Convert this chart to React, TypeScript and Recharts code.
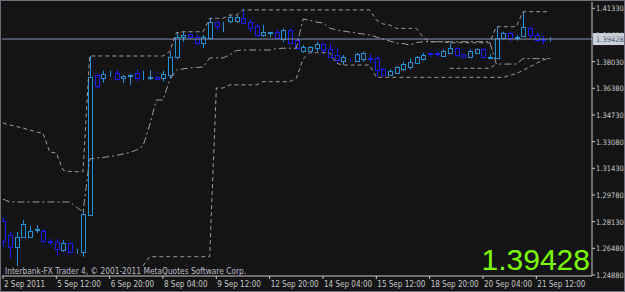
import React from 'react';
import { ComposedChart, Bar, Line, XAxis, YAxis, ReferenceLine } from 'recharts';

const BG = '#141414';
const BULL = '#2290d4';
const BEAR = '#1a1af2';
const AXIS = '#c8c8c8';
const GRAYLINE = '#9c9c9c';
const FONT = "Tahoma, 'DejaVu Sans Condensed', 'Liberation Sans', sans-serif";

// H4 bars, index 0 = 2 Sep 2011
const opens = [
  1.2817, 1.2731, 1.2656, 1.2721, 1.2721, 1.2761, 1.2757, 1.2693, 1.2689, 1.2638,
  1.2679, 1.2625, 1.2625, 1.2854, 1.3720, 1.3700, 1.3725, 1.3735, 1.3699, 1.3717,
  1.3731, 1.3705, 1.3702, 1.3711, 1.3704, 1.3720, 1.3834, 1.3954, 1.3974, 1.3954,
  1.3920, 1.3947, 1.4050, 1.4034, 1.4056, 1.4056, 1.4071, 1.4050, 1.4024, 1.3968,
  1.3982, 1.3988, 1.3941, 1.3999, 1.3937, 1.3871, 1.3871, 1.3886, 1.3912, 1.3879,
  1.3844, 1.3809, 1.3815, 1.3809, 1.3818, 1.3826, 1.3824, 1.3756, 1.3720, 1.3731,
  1.3756, 1.3772, 1.3797, 1.3818, 1.3857, 1.3857, 1.3838, 1.3858, 1.3886, 1.3850,
  1.3830, 1.3858, 1.3879, 1.3827, 1.3824, 1.3947, 1.3978, 1.3951, 1.3962, 1.4009,
  1.3968, 1.3943, 1.3940,
];
const highs = [
  1.2836, 1.2749, 1.2749, 1.2823, 1.2786, 1.2792, 1.2768, 1.2709, 1.2706, 1.2700,
  1.2683, 1.2644, 1.2881, 1.3838, 1.3727, 1.3747, 1.3747, 1.3751, 1.3720, 1.3727,
  1.3756, 1.3747, 1.3751, 1.3714, 1.3747, 1.3865, 1.3982, 1.3988, 1.3982, 1.3968,
  1.3968, 1.4071, 1.4056, 1.4050, 1.4092, 1.4092, 1.4123, 1.4061, 1.4036, 1.4030,
  1.3988, 1.3999, 1.4009, 1.4009, 1.3954, 1.3906, 1.3900, 1.3926, 1.3920, 1.3912,
  1.3886, 1.3844, 1.3824, 1.3858, 1.3865, 1.3850, 1.3834, 1.3762, 1.3756, 1.3776,
  1.3801, 1.3824, 1.3838, 1.3858, 1.3858, 1.3865, 1.3879, 1.3920, 1.3892, 1.3850,
  1.3879, 1.3886, 1.3886, 1.3850, 1.4019, 1.3988, 1.3988, 1.3968, 1.4112, 1.4019,
  1.3982, 1.3962, 1.3954,
];
const lows = [
  1.2656, 1.2588, 1.2539, 1.2718, 1.2712, 1.2743, 1.2681, 1.2669, 1.2606, 1.2625,
  1.2617, 1.2613, 1.2596, 1.2848, 1.3640, 1.3673, 1.3708, 1.3685, 1.3671, 1.3659,
  1.3679, 1.3689, 1.3689, 1.3689, 1.3679, 1.3700, 1.3818, 1.3926, 1.3947, 1.3906,
  1.3886, 1.3941, 1.3999, 1.3985, 1.4040, 1.4044, 1.4036, 1.3988, 1.3954, 1.3957,
  1.3954, 1.3941, 1.3926, 1.3912, 1.3875, 1.3858, 1.3871, 1.3865, 1.3858, 1.3830,
  1.3793, 1.3782, 1.3803, 1.3803, 1.3803, 1.3797, 1.3706, 1.3714, 1.3714, 1.3727,
  1.3745, 1.3756, 1.3793, 1.3809, 1.3830, 1.3830, 1.3834, 1.3855, 1.3830, 1.3830,
  1.3824, 1.3850, 1.3830, 1.3818, 1.3818, 1.3941, 1.3926, 1.3933, 1.3957, 1.3947,
  1.3926, 1.3912, 1.3926,
];
const closes = [
  1.2693, 1.2656, 1.2718, 1.2799, 1.2758, 1.2765, 1.2695, 1.2687, 1.2642, 1.2683,
  1.2623, 1.2628, 1.2860, 1.3706, 1.3652, 1.3727, 1.3728, 1.3694, 1.3714, 1.3720,
  1.3700, 1.3708, 1.3705, 1.3696, 1.3727, 1.3834, 1.3954, 1.3968, 1.3954, 1.3920,
  1.3954, 1.4050, 1.4024, 1.4036, 1.4077, 1.4077, 1.4044, 1.4009, 1.3968, 1.3985,
  1.3985, 1.3947, 1.3999, 1.3920, 1.3886, 1.3896, 1.3892, 1.3912, 1.3875, 1.3834,
  1.3813, 1.3830, 1.3811, 1.3850, 1.3855, 1.3821, 1.3751, 1.3720, 1.3747, 1.3768,
  1.3788, 1.3803, 1.3830, 1.3844, 1.3852, 1.3852, 1.3871, 1.3886, 1.3844, 1.3830,
  1.3871, 1.3879, 1.3834, 1.3830, 1.3947, 1.3978, 1.3947, 1.3954, 1.4016, 1.3968,
  1.3937, 1.3939, 1.39428,
];

// channel / stop indicator lines
const upperChannel = [
  1.3423, 1.3411, 1.3402, 1.3392, 1.3380, 1.3368, 1.3360, 1.3244, 1.3238, 1.3133,
  1.3122, 1.3122, 1.3122, 1.3838, 1.3838, 1.3838, 1.3838, 1.3838, 1.3838, 1.3838,
  1.3838, 1.3838, 1.3838, 1.3838, 1.3838, 1.3865, 1.3982, 1.3988, 1.3988, 1.3988,
  1.3988, 1.4071, 1.4071, 1.4071, 1.4092, 1.4092, 1.4123, 1.4123, 1.4123, 1.4123,
  1.4123, 1.4123, 1.4123, 1.4123, 1.4123, 1.4123, 1.4123, 1.4123, 1.4123, 1.4123,
  1.4123, 1.4123, 1.4123, 1.4123, 1.4123, 1.4123, 1.4061, 1.4036, 1.4030, 1.4009,
  1.4009, 1.4009, 1.4009, 1.3954, 1.3926, 1.3926, 1.3926, 1.3920, 1.3920, 1.3920,
  1.3920, 1.3920, 1.3920, 1.3920, 1.4019, 1.4019, 1.4019, 1.4019, 1.4112, 1.4112,
  1.4112, 1.4112, 1.4112,
];
const lowerChannelStart = 21;
const lowerChannelValues = [
  1.2539, 1.2596, 1.2596, 1.2596, 1.2596, 1.2596, 1.2596, 1.2596, 1.2596, 1.2596,
  1.2596, 1.3640, 1.3640, 1.3659, 1.3659, 1.3659, 1.3659, 1.3659, 1.3679, 1.3679,
  1.3679, 1.3679, 1.3679, 1.3700, 1.3818, 1.3858, 1.3858, 1.3858, 1.3858, 1.3793,
  1.3782, 1.3782, 1.3782, 1.3782, 1.3782, 1.3706, 1.3706, 1.3706, 1.3706, 1.3706,
  1.3706, 1.3706, 1.3706, 1.3706, 1.3706, 1.3706, 1.3706, 1.3706, 1.3706, 1.3706,
  1.3706, 1.3706, 1.3706, 1.3706, 1.3706, 1.3717, 1.3730, 1.3748, 1.3770, 1.3792,
  1.3813, 1.3822,
];
const trailStop = [
  1.2953, 1.2935, 1.2935, 1.2935, 1.2935, 1.2935, 1.2935, 1.2935, 1.2935, 1.2935,
  1.2935, 1.2904, 1.2873, 1.3201, 1.3207, 1.3210, 1.3216, 1.3222, 1.3232, 1.3241,
  1.3256, 1.3281, 1.3411, 1.3566, 1.3566, 1.3689, 1.3751, 1.3758, 1.3764, 1.3767,
  1.3770, 1.3826, 1.3826, 1.3826, 1.3844, 1.3872, 1.3875, 1.3875, 1.3875, 1.3875,
  1.3875, 1.3884, 1.3886, 1.3886, 1.3886, 1.4067, 1.4058, 1.4048, 1.4042, 1.4011,
  1.3999, 1.3993, 1.3986, 1.3980, 1.3974, 1.3968, 1.3955, 1.3943, 1.3931, 1.3918,
  1.3915, 1.3906, 1.3921, 1.3926, 1.3926, 1.3926, 1.3926, 1.3926, 1.3926, 1.3926,
  1.3926, 1.3926, 1.3926, 1.3926, 1.3788, 1.3788, 1.3788, 1.3788, 1.3822, 1.3822,
  1.3822, 1.3822, 1.3822,
];
const extraLineStart = 67;
const extraLineValues = [1.3762, 1.3762, 1.3762, 1.3762, 1.3762, 1.3762, 1.3762, 1.3788];

const xTickIndex = [0, 8, 16, 24, 32, 40, 48, 56, 64, 72, 80];
const xTickLabels = [
  '2 Sep 2011', '5 Sep 12:00', '6 Sep 20:00', '8 Sep 04:00', '9 Sep 12:00',
  '12 Sep 20:00', '14 Sep 04:00', '15 Sep 12:00', '18 Sep 20:00', '20 Sep 04:00', '21 Sep 12:00',
];
const yTickValues = [1.4133, 1.3968, 1.3803, 1.3638, 1.3473, 1.3308, 1.3143, 1.2978, 1.2813, 1.2648, 1.2483];
const yTickLabels = ['1.41330', '1.39680', '1.38030', '1.36380', '1.34730', '1.33080', '1.31430', '1.29780', '1.28130', '1.26480', '1.24880'];
const lastPrice = 1.39428;
const lastPriceLabel = '1.39428';
const brokerText = 'Interbank-FX Trader 4, \u00A9 2001-2011 MetaQuotes Software Corp.';

const data = opens.map((open, i) => ({
  i,
  open,
  high: highs[i],
  low: lows[i],
  close: closes[i],
  range: [lows[i], highs[i]],
  upper: upperChannel[i],
  lower: i >= lowerChannelStart ? lowerChannelValues[i - lowerChannelStart] : null,
  trail: trailStop[i],
  extra:
    i >= extraLineStart && i < extraLineStart + extraLineValues.length
      ? extraLineValues[i - extraLineStart]
      : null,
}));

const Candle = (props: any) => {
  const { x, y, width, height, payload } = props;
  if (!payload || x == null || y == null) return null;
  const { open, close, high, low } = payload;
  const top = Math.min(y, y + height);
  const h = Math.abs(height);
  const span = high - low;
  const ppu = span > 0 ? h / span : 0;
  const yO = top + (high - open) * ppu;
  const yC = top + (high - close) * ppu;
  const bull = close >= open;
  const color = bull ? BULL : BEAR;
  const cx = Math.round(x + width / 2) + 0.5;
  const bTop = Math.round(Math.min(yO, yC)) + 0.5;
  const bBot = Math.round(Math.max(yO, yC)) + 0.5;
  return (
    <g>
      <line x1={cx} x2={cx} y1={top} y2={top + h} stroke={color} strokeWidth={1} />
      <rect x={cx - 2} y={bTop} width={4} height={Math.max(bBot - bTop, 0)} fill={BG} stroke={color} strokeWidth={1} />
    </g>
  );
};

const XTick = (props: any) => {
  const { x, y, payload } = props;
  const idx = xTickIndex.indexOf(payload.value);
  return (
    <text x={x + 1} y={y + 6} fill={AXIS} fontSize={8} fontFamily={FONT} textAnchor="start">
      {idx >= 0 ? xTickLabels[idx] : ''}
    </text>
  );
};

const YTick = (props: any) => {
  const { x, y, payload } = props;
  const idx = yTickValues.indexOf(payload.value);
  return (
    <text x={x - 1} y={y + 3} fill={AXIS} fontSize={7.5} fontFamily={FONT} textAnchor="start">
      {idx >= 0 ? yTickLabels[idx] : ''}
    </text>
  );
};

const PriceTag = (props: any) => {
  const vb = props.viewBox || {};
  const x = (vb.x ?? 0) + (vb.width ?? 0);
  const y = vb.y ?? 0;
  return (
    <g>
      <rect x={x + 1} y={y - 6} width={32} height={12} fill="#c9d0de" />
      <text x={x + 4} y={y + 3} fill="#555566" fontSize={7.5} fontFamily={FONT}>
        {lastPriceLabel}
      </text>
    </g>
  );
};

export default function App() {
  return (
    <div style={{ position: 'absolute', left: 0, top: 0, width: 625, height: 292, background: BG }}>
      <ComposedChart
        width={625}
        height={292}
        data={data}
        margin={{ top: 2, right: 0, bottom: 0, left: 2 }}
        style={{ background: BG }}
      >
        <XAxis
          dataKey="i"
          type="number"
          domain={[-0.15, 88.35]}
          allowDataOverflow
          ticks={xTickIndex}
          height={16}
          axisLine={{ stroke: AXIS }}
          tickLine={{ stroke: AXIS }}
          tickSize={3}
          tick={<XTick />}
          interval={0}
        />
        <YAxis
          orientation="right"
          type="number"
          domain={[1.24768, 1.4172]}
          allowDataOverflow
          ticks={yTickValues}
          width={33}
          axisLine={{ stroke: AXIS }}
          tickLine={{ stroke: AXIS }}
          tickSize={3}
          tick={<YTick />}
          interval={0}
        />
        <ReferenceLine y={lastPrice} stroke="#8392b4" strokeWidth={1} label={<PriceTag />} />
        <Bar dataKey="range" barSize={5} shape={<Candle />} isAnimationActive={false} />
        <Line dataKey="upper" type="linear" stroke={GRAYLINE} strokeWidth={1} strokeDasharray="4 3" dot={false} isAnimationActive={false} />
        <Line dataKey="lower" type="linear" stroke={GRAYLINE} strokeWidth={1} strokeDasharray="4 3" dot={false} isAnimationActive={false} />
        <Line dataKey="trail" type="linear" stroke={GRAYLINE} strokeWidth={1} strokeDasharray="7 3 2 3" dot={false} isAnimationActive={false} />
        <Line dataKey="extra" type="linear" stroke={GRAYLINE} strokeWidth={1} strokeDasharray="4 3" dot={false} isAnimationActive={false} />
      </ComposedChart>
      <svg width={625} height={292} style={{ position: 'absolute', left: 0, top: 0, pointerEvents: 'none' }}>
        <rect x={0.5} y={0.5} width={624} height={291} fill="none" stroke="#6e6e7c" />
        <text x={5} y={274} fill="#bcbcc8" fontSize={8.3} fontFamily={FONT}>
          {brokerText}
        </text>
        <text x={590} y={270} fill="#7cfc00" fontSize={30} fontFamily="'Liberation Sans', Arial, sans-serif" textAnchor="end">
          {lastPriceLabel}
        </text>
      </svg>
    </div>
  );
}
